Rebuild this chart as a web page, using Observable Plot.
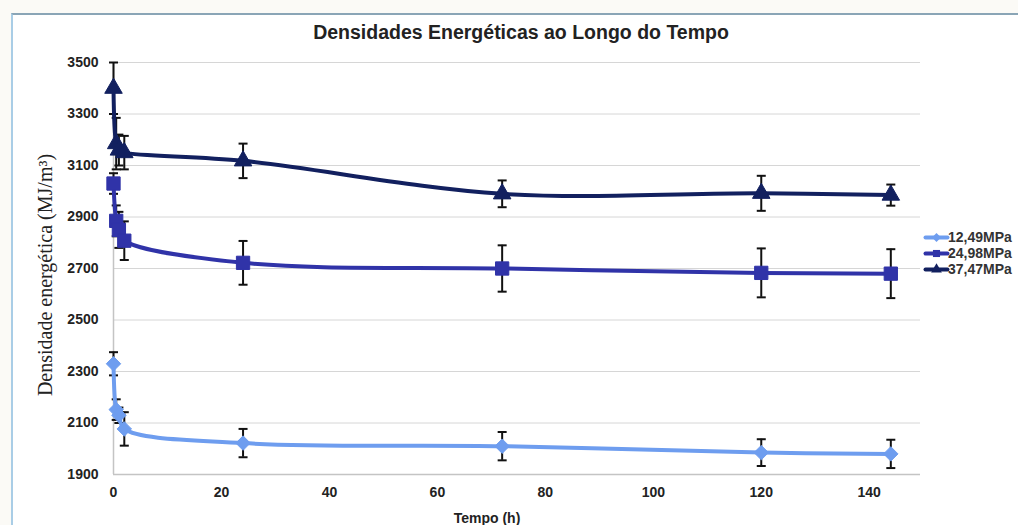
<!DOCTYPE html>
<html>
<head>
<meta charset="utf-8">
<script src="https://cdn.jsdelivr.net/npm/d3@7"></script>
<script src="https://cdn.jsdelivr.net/npm/@observablehq/plot@0.6"></script>
<style>
  html, body { margin: 0; padding: 0; background: #fbfaf6; }
  #wrap { position: relative; width: 1018px; height: 525px; overflow: hidden; font-family: "Liberation Sans", Arial, sans-serif; }
  #frame { position: absolute; left: 11px; top: 13px; width: 1100px; height: 600px; background: #fff;
           border-left: 2px solid #a9cde6; border-top: 2px solid #8aa5b6; }
  #title { position: absolute; left: 0; width: 1042px; top: 21px; text-align: center; font-weight: bold; font-size: 19.5px; color: #222; }
  #chart { position: absolute; left: 0; top: 0; }
  #ylab { position: absolute; left: 45px; top: 275px; transform: translate(-50%, -50%) rotate(-90deg); white-space: nowrap;
          font-family: "Liberation Serif", "Times New Roman", serif; font-size: 20px; color: #222; }
  #xlab { position: absolute; left: 487px; top: 510px; transform: translateX(-50%); font-weight: bold; font-size: 14px; color: #222; }
  #legend { position: absolute; left: 925px; top: 229px; }
  .lrow { display: flex; align-items: center; height: 16px; white-space: nowrap; }
  .lrow span { font-weight: bold; font-size: 14px; color: #333; margin-left: 1px; }
</style>
</head>
<body>
<div id="wrap">
  <div id="frame"></div>
  <div id="chart"></div>
  <div id="title">Densidades Energéticas ao Longo do Tempo</div>
  <div id="ylab">Densidade energética (MJ/m³)</div>
  <div id="xlab">Tempo (h)</div>
  <div id="legend"></div>
</div>
<script>
// ---- data ----
const times = [0, 0.5, 1, 2, 24, 72, 120, 144];
const seriesNames = ["12,49MPa", "24,98MPa", "37,47MPa"];
const values1249 = [2330, 2152, 2130, 2077, 2022, 2010, 1985, 1980];
const errors1249 = [45, 40, 30, 65, 55, 55, 52, 55];
const values2498 = [3030, 2885, 2850, 2808, 2722, 2700, 2683, 2680];
const errors2498 = [40, 60, 70, 75, 85, 90, 95, 95];
const values3747 = [3400, 3185, 3160, 3150, 3118, 2990, 2992, 2985];
const errors3747 = [100, 100, 60, 65, 67, 52, 68, 41];
const yTicks = [1900, 2100, 2300, 2500, 2700, 2900, 3100, 3300, 3500];
const xTicks = [0, 20, 40, 60, 80, 100, 120, 140];

const colors = ["#6e9def", "#3033a8", "#12205f"];
const symbols = ["diamond2", "square", "triangle"];

const allValues = [values1249, values2498, values3747];
const allErrors = [errors1249, errors2498, errors3747];
const data = [];
seriesNames.forEach((s, i) => {
  times.forEach((t, j) => {
    data.push({series: s, t, v: allValues[i][j], e: allErrors[i][j]});
  });
});

const capSymbol = {
  draw(context, size) {
    const w = 4.5;
    context.moveTo(-w, 0);
    context.lineTo(w, 0);
  }
};

const marks = [
  Plot.gridY(yTicks, {stroke: "#d6d6d6", strokeOpacity: 1, strokeWidth: 1}),
  Plot.ruleX([0], {stroke: "#c4c4c4", strokeWidth: 1.5}),
  Plot.ruleY([1900], {stroke: "#c4c4c4", strokeWidth: 1.5}),
  Plot.axisY(yTicks, {tickSize: 0, tickPadding: 15, tickFormat: d => String(d), fontWeight: "bold", fontSize: 14, label: null, fill: "#222"}),
  Plot.axisX(xTicks, {tickSize: 0, tickPadding: 13, tickFormat: d => String(d), fontWeight: "bold", fontSize: 14, label: null, fill: "#222"}),
  Plot.ruleX(data, {x: "t", y1: d => d.v - d.e, y2: d => d.v + d.e, stroke: "#111", strokeWidth: 2}),
  Plot.dot(data, {x: "t", y: d => d.v - d.e, symbol: capSymbol, stroke: "#111", strokeWidth: 2, r: 3}),
  Plot.dot(data, {x: "t", y: d => d.v + d.e, symbol: capSymbol, stroke: "#111", strokeWidth: 2, r: 3})
];
seriesNames.forEach((s, i) => {
  const sd = data.filter(d => d.series === s);
  marks.push(Plot.line(sd, {x: "t", y: "v", stroke: colors[i], strokeWidth: 4, curve: "catmull-rom"}));
  marks.push(Plot.dot(sd, {x: "t", y: "v", symbol: symbols[i], fill: colors[i], stroke: colors[i], strokeWidth: 1,
    r: i === 1 ? 7.5 : 6.5}));
});

const chart = Plot.plot({
  width: 1018,
  height: 525,
  marginTop: 62,
  marginBottom: 51,
  marginLeft: 113,
  marginRight: 98,
  style: {fontFamily: "'Liberation Sans', Arial, sans-serif", background: "transparent", overflow: "visible"},
  x: {domain: [0, 149.5]},
  y: {domain: [1900, 3500]},
  marks
});
document.getElementById("chart").appendChild(chart);

// legend
const legend = document.getElementById("legend");
seriesNames.forEach((s, i) => {
  const row = document.createElement("div");
  row.className = "lrow";
  const sw = Plot.plot({
    width: 22, height: 16, margin: 0,
    x: {domain: [0, 1], axis: null}, y: {domain: [0, 1], axis: null},
    style: {background: "transparent", overflow: "visible"},
    marks: [
      Plot.line([{x: 0, y: 0.5}, {x: 1, y: 0.5}], {x: "x", y: "y", stroke: colors[i], strokeWidth: 4}),
      Plot.dot([{x: 0.5, y: 0.5}], {x: "x", y: "y", symbol: symbols[i], fill: colors[i], r: 4})
    ]
  });
  row.appendChild(sw);
  const sp = document.createElement("span");
  sp.textContent = s;
  row.appendChild(sp);
  legend.appendChild(row);
});
</script>
</body>
</html>
